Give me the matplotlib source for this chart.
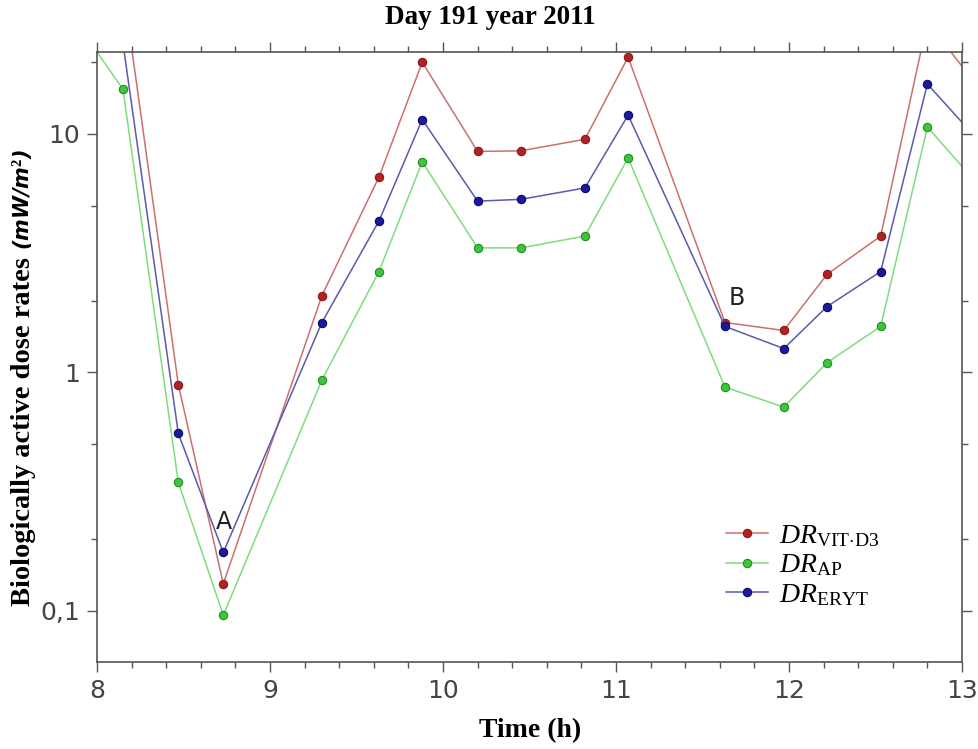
import matplotlib
matplotlib.use("Agg")
import matplotlib.pyplot as plt
from matplotlib.ticker import FixedLocator, NullFormatter, FixedFormatter

plt.rcParams['mathtext.fontset'] = 'custom'
plt.rcParams['mathtext.rm'] = 'Liberation Serif'
plt.rcParams['mathtext.it'] = 'Liberation Serif:italic'
plt.rcParams['mathtext.bf'] = 'Liberation Serif:bold'

# ---- data ----
time_h = [7.85, 8.15, 8.47, 8.73, 9.30, 9.63, 9.88, 10.20, 10.45, 10.82,
          11.07, 11.63, 11.97, 12.22, 12.53, 12.80, 13.10]
dr_vitd3 = [82, 42, 0.89, 0.130, 2.10, 6.6, 20.0, 8.45, 8.5, 9.5,
            21.0, 1.62, 1.50, 2.58, 3.73, 29.6, 15.5]
dr_ap = [31.6, 15.4, 0.346, 0.096, 0.93, 2.65, 7.64, 3.33, 3.33, 3.73,
         7.93, 0.868, 0.716, 1.10, 1.56, 10.7, 6.05]
dr_eryt = [47, 24, 0.555, 0.176, 1.62, 4.32, 11.5, 5.23, 5.32, 5.94,
           12.0, 1.56, 1.26, 1.89, 2.65, 16.2, 9.3]

y_major = [0.1, 1, 10]
y_major_labels = ["0,1", "1", "10"]
y_minor = [0.2, 0.5, 2, 5, 20]
x_major = [8, 9, 10, 11, 12, 13]
x_major_labels = ["8", "9", "10", "11", "12", "13"]
x_minor = [8.2, 8.4, 8.6, 8.8, 9.2, 9.4, 9.6, 9.8, 10.2, 10.4, 10.6, 10.8,
           11.2, 11.4, 11.6, 11.8, 12.2, 12.4, 12.6, 12.8]

annotations = [("A", 8.735, 0.235), ("B", 11.70, 2.05)]

series = [
    (dr_vitd3, r'$\mathit{DR}_{\mathrm{VIT{\cdot}D3}}$', '#cc6f6f', '#b22222', '#8b1a1a'),
    (dr_ap, r'$\mathit{DR}_{\mathrm{AP}}$', '#7fdc7f', '#3fc43f', '#1f8f1f'),
    (dr_eryt, r'$\mathit{DR}_{\mathrm{ERYT}}$', '#5a5aae', '#1a1a9a', '#0a0a70'),
]

W, H = 979, 749
fig = plt.figure(figsize=(W / 100, H / 100), dpi=100)
ax = fig.add_axes([97 / W, 1 - 662 / H, (962 - 97) / W, (662 - 52) / H])

for vals, lab, lc, mfc, mec in series:
    ax.plot(time_h, vals, '-', color=lc, lw=1.1, marker='o', ms=6,
            markerfacecolor=mfc, markeredgecolor=mec, markeredgewidth=0.8,
            label=lab)

ax.set_yscale('log')
ax.set_xlim(8, 13)
ax.set_ylim(0.0611, 22.07)

ax.yaxis.set_major_locator(FixedLocator(y_major))
ax.yaxis.set_major_formatter(FixedFormatter(y_major_labels))
ax.yaxis.set_minor_locator(FixedLocator(y_minor))
ax.yaxis.set_minor_formatter(NullFormatter())
ax.xaxis.set_major_locator(FixedLocator(x_major))
ax.xaxis.set_major_formatter(FixedFormatter(x_major_labels))
ax.xaxis.set_minor_locator(FixedLocator(x_minor))

spc = '#555555'
for s in ax.spines.values():
    s.set_color(spc)
    s.set_linewidth(1.2)
ax.tick_params(which='both', direction='out', top=True, right=True,
               color=spc, width=1.0)
ax.tick_params(which='major', length=7, labelsize=18, labelcolor='#444444', pad=5)
ax.tick_params(which='minor', length=4)

for txt, x, y in annotations:
    ax.text(x, y, txt, ha='center', va='center', fontsize=17,
            family='DejaVu Sans', color='#222222')

fig.text(490 / W, 1 - 17 / H, "Day 191 year 2011", ha='center', va='center',
         fontsize=19.5, fontweight='bold', family='Liberation Serif')
fig.text(530 / W, 1 - 731 / H, "Time (h)", ha='center', va='center',
         fontsize=20, fontweight='bold', family='Liberation Serif')

t1 = fig.text(24 / W, 1 - 606 / H, "Biologically active dose rates ",
              rotation=90, ha='center', va='bottom', fontsize=20.5,
              fontweight='bold', family='Liberation Serif')
fig.canvas.draw()
bb = t1.get_window_extent()
t2 = fig.text(23 / W, bb.y1 / H, r"(mW/m$^\mathbf{2}$)", rotation=90,
              ha='center', va='bottom', fontsize=15, fontweight='bold',
              style='italic', family='DejaVu Sans')

leg = ax.legend(loc='upper left', bbox_to_anchor=(726 / W, 1 - 521 / H),
                bbox_transform=fig.transFigure, frameon=False, fontsize=20,
                handlelength=1.5, handletextpad=0.4, labelspacing=0.05,
                borderpad=0, borderaxespad=0)

fig.savefig("out.png", dpi=100)
